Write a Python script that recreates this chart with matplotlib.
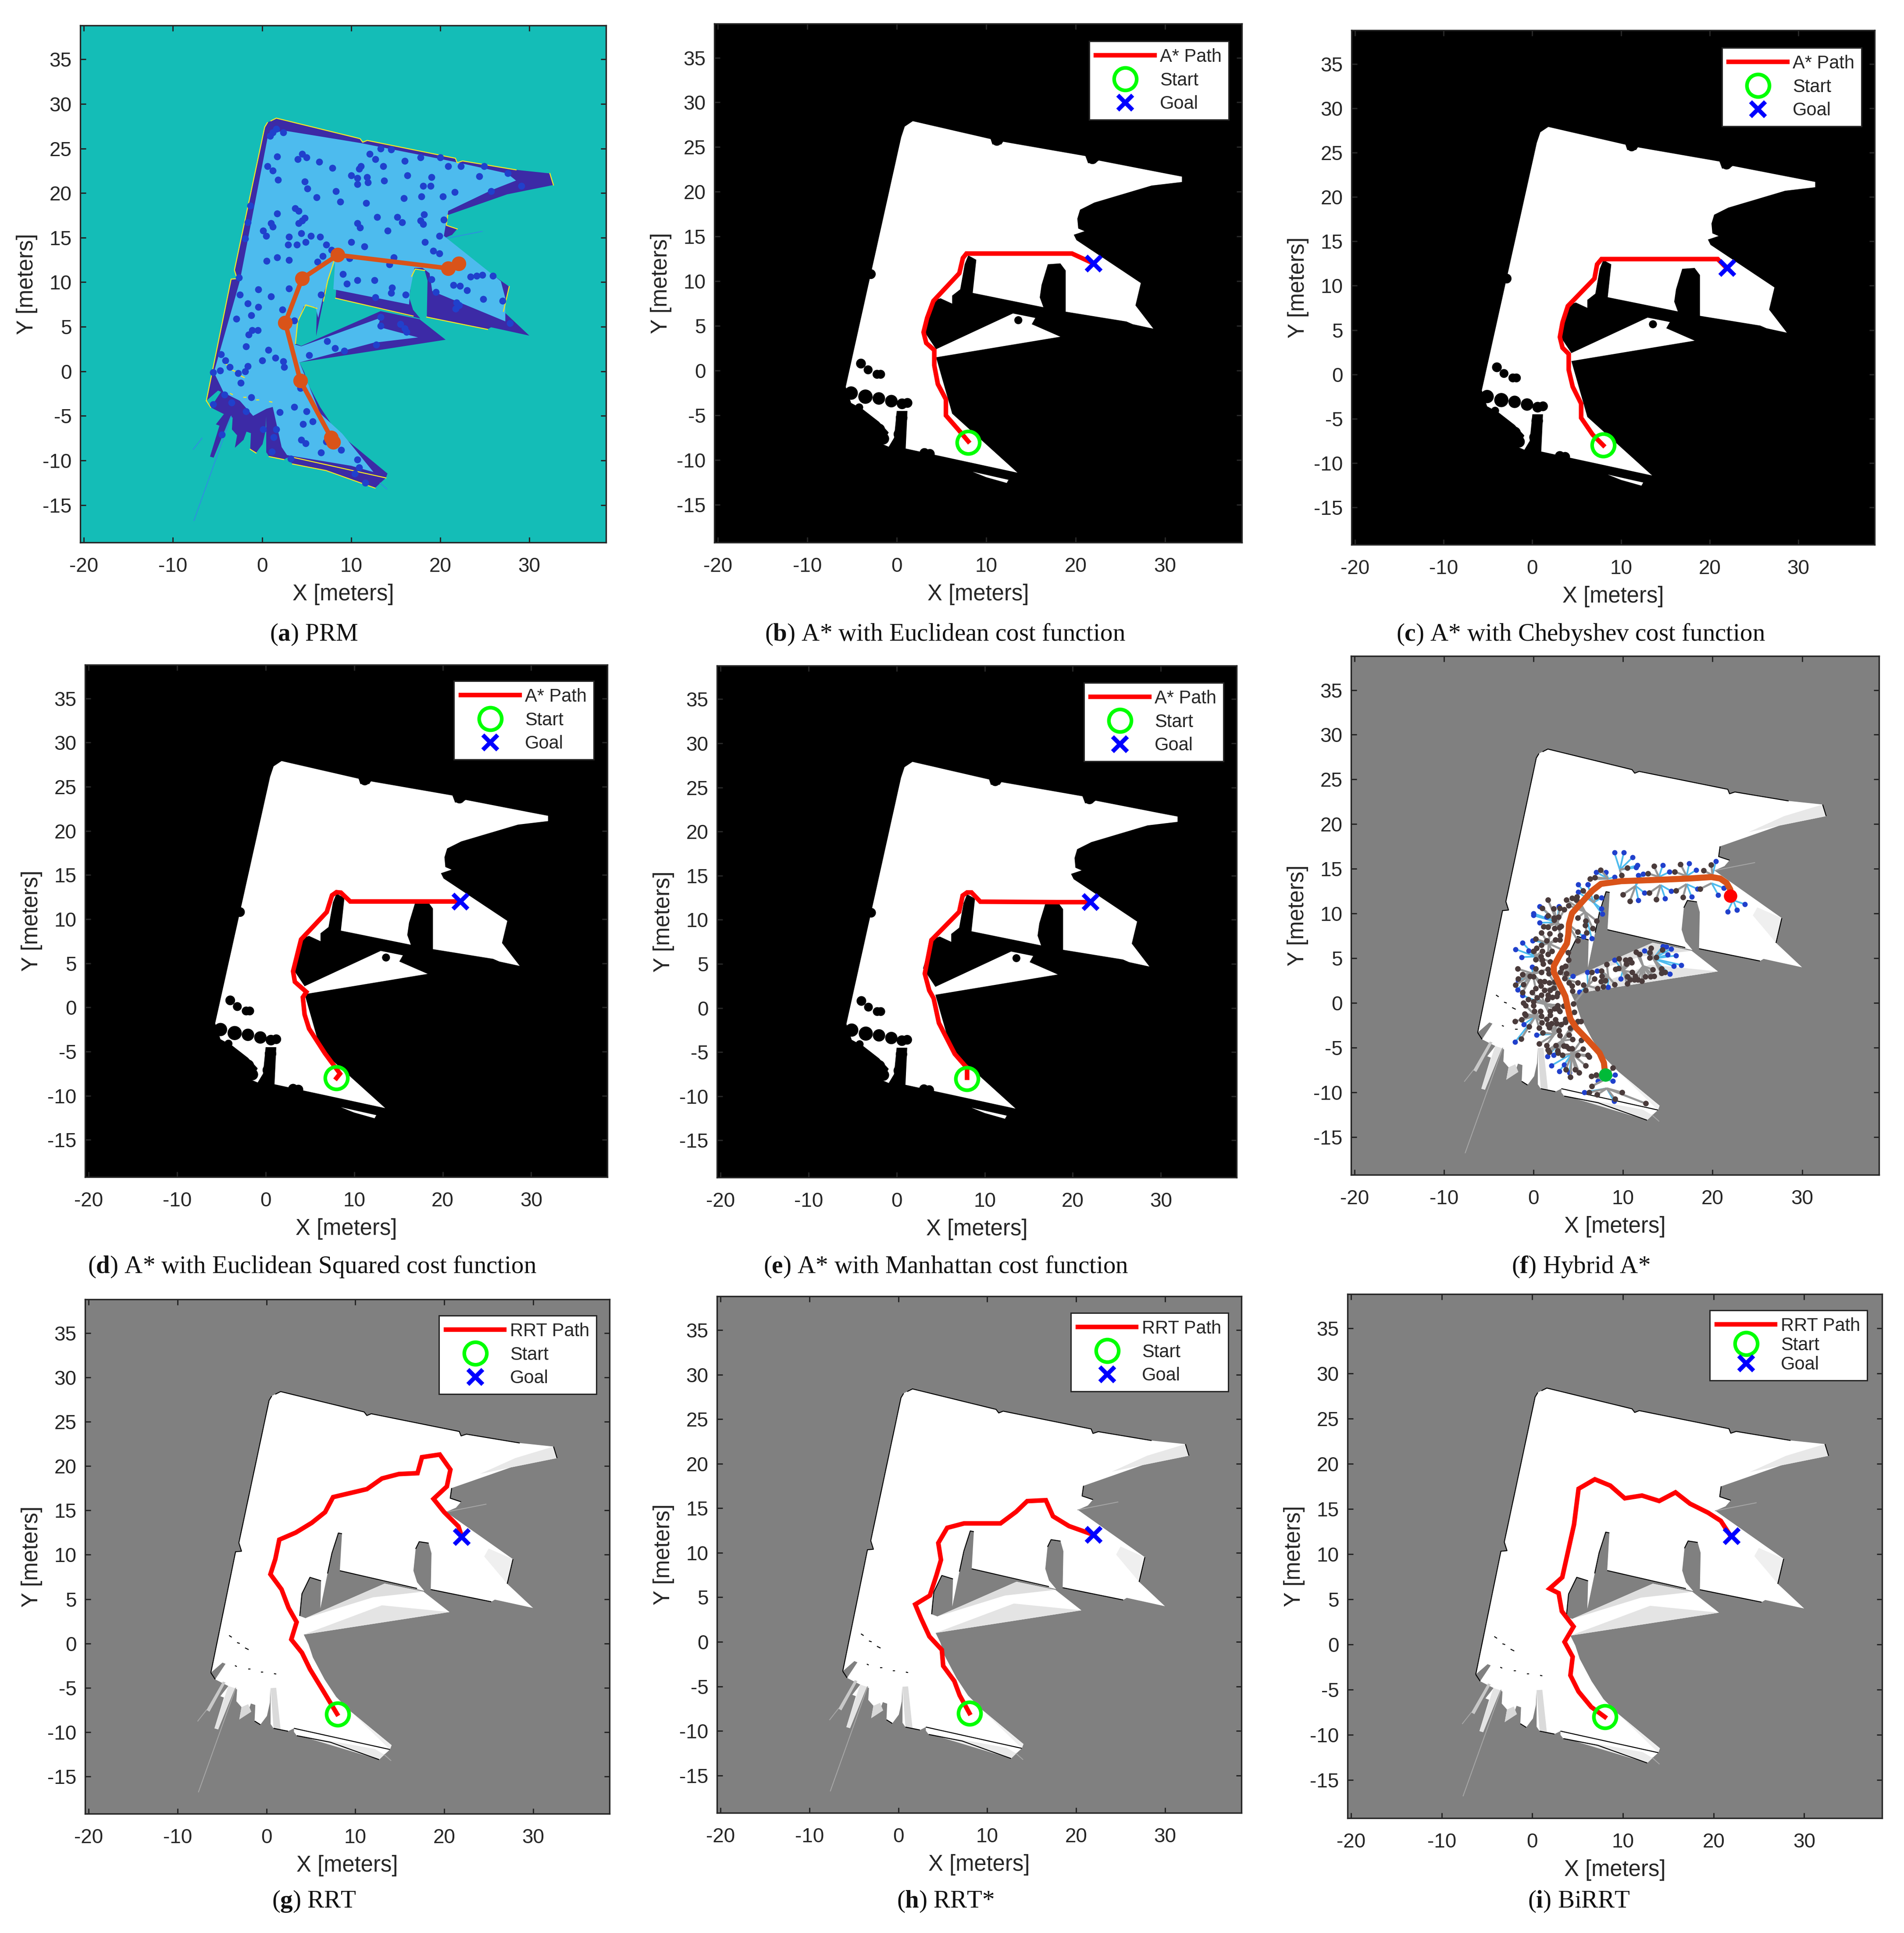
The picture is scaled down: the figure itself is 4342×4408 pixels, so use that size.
import numpy as np
import matplotlib
matplotlib.use("Agg")
import matplotlib.pyplot as plt
from matplotlib.patches import Circle, Polygon
from matplotlib.collections import LineCollection

plt.rcParams['font.family'] = ['Liberation Sans', 'DejaVu Sans']
plt.rcParams['mathtext.fontset'] = 'custom'
plt.rcParams['mathtext.bf'] = 'Liberation Serif:bold'
plt.rcParams['mathtext.rm'] = 'Liberation Serif'
plt.rcParams['axes.unicode_minus'] = False

W, H = 4342, 4408
DARK = '#262626'
XTICKS = [-20, -10, 0, 10, 20, 30]
YTICKS = [-15, -10, -5, 0, 5, 10, 15, 20, 25, 30, 35]
XLIM = (-20.4, 38.6)
YLIM = (-19.2, 38.8)
START = (8, -8)
GOAL = (22, 12)

# Free space of the raw occupancy map
MAP_X = [-6.25,-3.47,-2.8,-3.1,0.3,0.6,1.6,11,11.3,11.8,21.7,21.9,22.5,28.5,32.3,32.7,27.5,20.84,20.68,21.9,21.33,20.2,
         27.74,27.09,30,25.7,25.3,18.49,18.57,18.25,17.19,16.79,16.54,16.95,17.76,8.26,8.5,8.1,7.37,6.88,6.07,6.15,4.9,4,3.75,4.4,
         13.3,17.67,20.6,4.2,4.74,5.23,6.54,7.85,9.49,14.08,13.9,13.26,12.68,7.2,3.42,3.1,3.1,2.44,0.8,0.47,
         0.47,0.39,0.06,-0.68,-1.33,-1.25,-1.74,-2.07,-3.05,-2.8,-3.38,-3.3,-3.54,-5.43,-5.84,-4.78,-5.18,-4.28,-4.94,-5.76,-4.6,-4.94]
MAP_Y = [-3.3,10.34,10.4,11.35,27.4,27.9,28.4,26.1,25.7,25.9,23.9,23.4,23.6,22.6,22.2,20.9,19.85,17.52,16.38,15.97,15.31,14.82,
         9.5,6.73,4,4.94,4.7,6.08,10.17,11.31,11.47,10.66,8.2,6.9,5.92,8.2,12.37,12.45,10.17,7.88,3.96,7.06,7.45,5.6,3.1,2.85,
         6.75,5.84,3.54,1,-0.1,-1.58,-4.05,-6.03,-7.68,-11.47,-11.96,-12.54,-13.1,-11.14,-10.4,-9.98,-9.57,-9.9,-9.57,-9.08,
         -5.04,-6.69,-8.17,-9.16,-8.75,-6.94,-6.77,-7.68,-8.58,-7.18,-6.52,-5.2,-5.04,-9.69,-9.57,-6.1,-5.95,-4.8,-4.47,-4.05,-2.3,-2.16]

# Lighter, partly observed zones of the map
SHADE_COLORS = ['#E4E4E4','#DEDEDE','#E8E8E8','#EFEFEF','#EAEAEA','#DADADA','#E4E4E4','#C8C8C8','#EFEFEF','#D8D8D8']
SHADE_POLYS = [
    [(4.2,1),(20.6,3.54),(13,4.3)],
    [(4.4,2.85),(13.3,6.75),(17.67,5.84),(12,5.2)],
    [(32.3,22.2),(32.7,20.9),(27.5,19.85),(24,19.1),(28,20.9)],
    [(27.74,9.5),(27.09,6.73),(24.5,9.8),(25,10.7)],
    [(3.4,-10.3),(12.68,-13.1),(13.26,-12.54),(12.2,-11.9)],
    [(0.47,-5.04),(1.1,-5),(1.6,-9.7),(0.8,-9.57)],
    [(-5.84,-9.57),(-5.43,-9.69),(-3.54,-5.04),(-4.3,-4.8)],
    [(-6.74,-7.5),(-6.4,-7.7),(-4.6,-4.4),(-4.9,-4.3)],
    [(9.49,-7.68),(14.08,-11.47),(13.9,-11.96)],
    [(-2.8,-7.18),(-2.05,-6.85),(-1.7,-7.7),(-3.05,-8.58)],
]
# Thin laser rays
RAYS = [[(-7.64,-16.74),(-3.46,-5.04)], [(-7.72,-8.75),(-6.74,-7.5)], [(20.2,14.82),(24.7,15.7)], [(13.26,-12.54),(14,-13.2)]]
# Occupied cells along the walls
WALLS = [
    [(-6.25,-3.3),(-3.47,10.34),(-2.8,10.4),(-3.1,11.35),(0.3,27.4),(0.6,27.9)],
    [(1.0,28.1),(1.6,28.4),(11,26.1),(11.3,25.7),(11.8,25.9),(21.7,23.9),(21.9,23.4),(22.5,23.6),(28.5,22.6)],
    [(32.3,22.2),(32.7,20.9)],
    [(20.84,17.52),(20.68,16.38),(21.9,15.97)],
    [(27.74,9.5),(27.09,6.73)],
    [(8.26,8.2),(16.95,6.2)],
    [(18.49,6.08),(25.3,4.7)],
    [(18.25,11.31),(17.19,11.47),(16.79,10.66)],
    [(8.5,12.37),(8.1,12.45),(7.37,10.17),(6.88,7.88)],
    [(6.15,7.06),(4.9,7.45),(4,5.6),(3.75,3.1)],
    [(3.42,-10.4),(7.2,-11.14),(12.68,-13.1)],
    [(3.1,-9.57),(13.9,-11.96)],
    [(-6.25,-3.3),(-5.76,-4.05)],
    [(-4.2,.9),(-3.9,.7)],[(-3.3,.1),(-3.0,0)],[(-2.4,-.5),(-2.0,-.7)],
    [(-3.54,-2.5),(-3.33,-2.6)],[(-2.07,-2.9),(-1.8,-2.9)],[(-0.6,-3.23),(-0.35,-3.23)],[(0.85,-3.4),(1.1,-3.45)],
    [(-0.68,-9.16),(-1.33,-8.75)],[(0.8,-9.57),(2.44,-9.9)],
]

# Inflated map used by the A* planners
ASTAR_X = [-5.7,0.5,0.9,1.8,10.5,10.7,11.7,11.9,21.1,21.4,22.3,22.6,29.8,31.9,31.9,28.5,22.1,20.5,20.2,20.3,21,19.8,20.1,
           27.3,26.7,28.7,26.4,25.7,18.9,18.9,18.3,16.9,16.2,16,16.4,8.5,8.9,8,7.6,7.1,6.2,6.2,4.9,4,3,4.4,
           13,15.5,15.1,16.7,18.3,4.4,6.2,13.5,1,1.2,0,-0.3,-0.9,-1.6,-0.9,-2,-3.8,-5.1]
ASTAR_Y = [-1.8,26.1,27.3,27.9,25.9,25.3,25.3,25.6,24,23.2,23.3,23.5,22.1,21.7,21.1,20.7,18.8,18,17,15.9,15.6,15.2,14.6,
           9.8,7.3,4.7,5.2,5.5,6.6,11.2,12,11.9,9.6,8.2,7.1,8.7,12.4,12.9,11.9,9.1,8.4,7.5,8.1,7.8,4.5,2.4,
           6.4,5.9,5.2,4.5,3.8,1.5,-4.8,-11.4,-8.7,-4.5,-4.5,-7.5,-8.5,-8.2,-6.9,-5.7,-4.3,-3.6]
SLIVER_X = [8.5,12.5,12.3,10]
SLIVER_Y = [-11.3,-12.2,-12.55,-11.9]
OBST_X = [-4,-3.2,-2.2,-1.8,-5.1,-3.5,-4.2,-2,-0.6,0.6,1.2,0.55,0.3,0.3,-3.2,-2,-1.5,3.1,3.7,-2.9,13.6,11.2,21.9]
OBST_Y = [0.8,0.1,-0.4,-0.4,-2.5,-2.9,-4.1,-3.1,-3.4,-3.7,-3.6,-5.25,-7.1,-8.7,-5.9,-6.6,-7.6,-9.2,-9.3,10.8,5.65,25.7,23.7]
OBST_R = [0.55,0.5,0.5,0.5,0.75,0.8,0.45,0.7,0.7,0.6,0.55,0.65,0.65,0.65,0.75,0.7,0.65,0.55,0.55,0.55,0.45,0.55,0.6]

# PRM layer
PRM_LIGHT_X = [-5.4,-2.5,0.7,2.5,11.1,21.6,27.5,28.5,25.7,20.9,20.4,26.8,27.3,27.3,19.1,18.8,18,17.1,16.6,16.5,8,8.2,7,6.3,6,
               4.7,4,3.7,4.4,13.3,13,17.5,12.5,4.2,6.5,9,12.5,10,2.8,2.2,1.2,0.5,-1,-2.5,-4.3]
PRM_LIGHT_Y = [-0.1,10.1,26.6,27,25.6,23.5,22.2,21.4,20.3,18,15.2,10.1,8.2,5.6,9,11,11.6,11.6,9,7.5,9.2,12.3,9,6,7.2,
               7.3,5.4,3,2.8,6,5,3.8,3.2,1,-4.7,-7,-11.3,-10.6,-9.4,-8.5,-4,-4.2,-5,-3.3,-2.4]
PRM_NODES_X = [2.4,1.6,.9,1.2,1.7,.6,1.2,1.8,4,4.5,5,6.4,7.9,12.1,12.7,13.3,14.5,13.6,16,17.8,20,20.9,22.3,24.9,16.3,19,18.1,18.9,24.4,27.6,29.1,25.7,
 10,10.7,10.9,11.1,11.8,11.9,10.7,13.7,4.8,5.1,6.1,8.3,8.8,15.9,17.9,20.3,21.6,11.7,-1.3,1.7,3.7,4.1,4.8,4.5,4.1,-1.6,1,1.2,.1,.45,-1.9,3,4.4,5.5,6.5,
 2.9,3.9,4.9,7.2,7.8,10.7,11,12.9,15.2,15.7,14.1,18.2,17.8,18.1,20.4,19.9,18.3,10,11.5,19.2,19.9,.5,1.7,3,6.2,6.8,9.8,14.8,14.3,
 -2.6,9.1,9.5,10.7,12.6,14.6,19,21.5,22.2,23,19.5,23.4,24.1,24.7,25.9,-.4,1,3,-2.5,6.6,12.7,14.5,16.1,24.8,27,21.8,22.1,21.7,
 -1.6,-.4,2.3,-1.2,3.6,-2.9,-1.1,-.45,-1.5,-1.8,13.3,13.3,15.5,16,16.2,7.3,8.2,9.2,12.8,5.3,27.8,.7,1.5,0,2.4,2.5,
 -4.6,-4.1,-3.6,-4.7,-5.5,-2.7,-1.9,-1.6,-2.4,4.3,-4.2,-3.4,-5.5,-1.2,3.6,5,-1.8,2,5.7,4.6,1.6,.1,-4.5,1.3,4.4,4.9,1.1,6.6,8.9,7.2,3.2,10.7,10.9,10.4,11.6]
PRM_NODES_Y = [26.8,27.2,26.4,26.8,24.1,23,22.5,21.5,23.8,24.4,24,23.5,22.8,24.4,23.8,25,24.9,23,23.6,24,24,23,23,23,22,21.8,20.8,20.8,21.9,22.2,20.8,20.2,
 22,21.7,22.7,23,21.8,21.2,21,21.4,21.3,20.5,19.5,20.2,19,19.4,19.6,19.6,20.1,18.9,18.6,17.7,18.3,18,17.2,16.9,16.6,16.7,16.6,16.2,15.8,15.2,14.9,15.1,15.5,15.2,15.1,
 14.2,14.2,14.5,14.2,13.6,16.6,16.1,17.3,17.3,16.7,15.8,17.6,16.9,16.5,17,15.2,14.5,14.5,14,13.5,13.2,12.4,12.8,12.5,12.3,12.9,12.7,12.8,12,
 10.5,10.9,9.8,10.2,10.2,9.4,10.3,9.7,9.6,9.1,8.9,10.6,10.7,10.8,10.7,9.2,8.4,9.3,8.6,8.6,8.3,8.8,8.6,8.1,7.9,7.7,7.4,7,
 7.6,7.2,6.9,6.3,5.7,5.9,4.6,4.6,4.1,2.8,6.1,5.1,5.3,4.8,4.4,3.4,2.6,2.3,3,1.8,5.4,2.4,1.5,1.2,1.1,.5,
 1.9,1.2,.5,.1,-.1,-.2,0,.6,-1.3,-1.9,-2.6,-3.5,-3.7,-2.9,-4,-4.5,-4.5,-4.6,-5.6,-5.9,-6.5,-6.5,-7.1,-7.4,-7.7,-8.1,-9,-9.1,-8.8,-7.9,-9.8,-9.9,-10.8,-11.5,-12.5]
PRM_PATH_X = [8,7.75,4.3,2.6,4.5,8.5,20.9,22.05]
PRM_PATH_Y = [-7.95,-7.45,-1.05,5.45,10.4,13.05,11.55,12.1]

# Planned paths
EUC_X = [8,6.9,5.5,5.5,4.6,4.2,4.2,3.3,3,3.4,4.1,7,7.4,7.8,19.6,22]
EUC_Y = [-7.9,-6.6,-5,-3.2,-1.5,.6,2.3,3.1,4.3,5.9,7.8,10.9,12.6,13.1,13.1,12]
CHE_X = [8,6.8,5.5,5.5,4.55,4.1,4.1,3.4,3.1,3.4,4,7,7.3,7.8,20.9,21.9]
CHE_Y = [-8,-6.8,-4.9,-3.3,-1.4,.5,2.3,3,4.2,5.85,7.7,10.8,12.4,13,13,12]
SQ_X = [8,8.4,6.7,4.9,4.4,4.2,4.6,3.3,3.1,4,6.9,7.5,8,8.5,9.55,21.85]
SQ_Y = [-8,-7.5,-5.2,-2.4,-.8,1.15,1.75,2.9,4.1,7.7,10.8,12.7,13.05,13,12,12]
MAN_X = [8,8,6.6,4.8,4.2,3.7,3.2,3.95,7.1,7.5,8,8.5,9.5,18.3,22]
MAN_Y = [-7.9,-6.8,-5.2,-1.7,1.1,2,3.9,7.7,10.9,12.75,13.1,13.1,12.05,12,12]
RRT_X = [7.95,6.3,4.9,4,2.8,3.4,2.5,1.7,.45,1,1.45,3.3,5.1,6.6,7.5,11.3,13,14.9,17,17.5,19.5,20.7,20.3,18.8,20,21.6,22]
RRT_Y = [-7.95,-5.2,-2.9,-1.05,.45,2.4,4,6.1,7.8,9.5,11.7,12.5,13.6,14.8,16.5,17.4,18.6,19.1,19.2,21,21.3,19.6,17.7,16.3,14.8,13.2,12]
RRTS_X = [8,6.9,6.3,5.05,4.9,3.5,2.55,1.9,3.55,4.3,4.8,4.5,5.5,7.4,11.5,13.25,14.5,16.6,17.4,19.2,22]
RRTS_Y = [-8,-6,-4.4,-2.7,-.9,.6,2.65,4.2,5.2,7.5,9.2,11.1,12.8,13.3,13.3,14.6,15.8,15.9,14.1,13,12]
BI_X = [8,6.5,5.1,4.2,4.45,3.55,4.55,3.25,2.9,1.9,3.3,4.6,5.1,6.9,8.6,10.2,12.1,14,15.8,17.4,19.4,20.8,21.9]
BI_Y = [-8,-6.9,-5.2,-3.4,-1.35,.3,2,3.7,5.7,6.2,7.45,13.3,17.25,18.3,17.6,16.2,16.5,15.9,16.85,15.6,14.6,13.7,12]
HYB_X = [8,7.86,7.37,6.07,4.77,4.12,3.8,3.55,2.82,2.26,2.26,2.9,3.72,3.88,3.96,4.29,5.42,6.56,7.53,9.8,14.2,17.4,19.87,20.84,21.57,21.98,22]
HYB_Y = [-8,-6.67,-5.58,-4.14,-2.79,-1.78,-.43,.75,2.27,3.46,4.13,5.31,6.66,7.68,8.86,10.04,11.3,12.57,13.33,13.63,13.79,13.93,14.09,13.93,13.43,12.7,12]

# Hybrid A* search tree
HUB_X = [9.64,14,14.2,17.1,17.1,20,19.9,11.4,22.3,8.35,6.72,5.75,2.66,3.8,1.69,-.1,2.5,1.2,.23,2.34,4.29,8.18,8,3.8,6.07,8.34,9.97,12.24,13.38,.2,3.2]
HUB_Y = [14.9,14.1,13.2,14.2,13.3,14.3,13.4,13.1,11.5,13.9,11.22,10.2,9.03,8.86,6.66,3.29,1.94,-.09,-1.44,-3.47,-5.66,-9.54,-8.53,2.61,1.94,2.95,3.62,4.13,4.97,5.2,-4.2]
BLUE_X = [9.03,10.08,11.06,11.62,11.46,8.05,7,6.04,11.72,12.24,9.03,14.43,15.19,17.39,18.17,20.36,12.4,11.72,15.37,14.71,18.33,17.66,20.63,23.6,22.73,21.67,21.25,
 4.97,6.04,4.97,7.58,7.58,7.66,-.02,-.02,.68,2.82,1.44,.68,6.48,5.58,-.1,-1.23,-.55,-2,-1.35,-.18,-1.72,-1.8,-1.23,-1.07,-2.05,.31,1.53,2.01,2.86,3.44,3.99,2.26,
 9.12,8.86,7.21,5.67,8.99,4.41,5.99,7.08,9.07,5.13,8.3,9.72,14.43,14.84,15.37,15.89,15,12.4,16.51,15.21,15.68]
BLUE_Y = [16.83,16.83,16.29,15.4,15.15,14.63,14.63,13.24,14.28,14.45,14.09,15.4,14.66,15.59,14.87,15.84,12.31,11.47,12.52,11.69,12.75,11.88,12.1,11.05,10.4,10.23,12.86,
 13.25,13.25,12.4,11.81,10.55,9.95,10.04,9.8,10.8,10.8,9.62,8.98,7.25,7.42,7,6.75,5.87,6.02,5.14,4.05,2.53,1.51,.84,-2.37,-4.34,-3.55,-5.96,-6.98,-7.65,-6.89,-7.8,-5.83,
 -8,-8.73,-8.7,-9.97,-10.98,3.03,3.46,3.62,4.81,1.23,1.77,2.7,6.36,6.29,6.07,5.31,5.4,5.85,4.25,3.24,4.13]
BROWN_X = [7.5,6.85,6.33,10.49,9.82,13.44,12.79,15.76,16.41,18.98,19.85,9.97,10.75,12.94,13.72,15.89,16.69,18.59,
 5.5,3.64,1.61,4.29,4.85,4.77,3.93,.96,2.26,2.95,3.44,1.61,2.29,2.79,2.31,1.12,1.61,2.34,2.9,3.07,4.93,5.83,5.75,7.04,6.61,4.93,5.91,6.98,
 .88,1.8,2.99,.23,1.44,2.42,2.95,4.93,.88,.31,-.02,.96,2.06,3.88,.8,1.61,.23,.96,1.85,1.04,3.93,3.55,3.15,.23,1.61,-1.8,.88,-1.23,-.42,-.02,1.69,2.99,3.64,3.47,-1.72,-1.15,-2,.71,1.2,1.77,.8,2.34,3.96,4.93,4.29,5.58,
 .23,-1.23,1.2,1.85,2.26,5.83,-.18,.88,1.61,2.66,4.37,-.6,.39,2.09,2.58,1.53,-1.15,-.91,-.02,-.02,4.45,2.66,2.34,2.74,3.39,.06,.79,2.91,1.85,4.53,-.99,.88,1.85,-.91,1.44,2.42,3.55,-1.32,-2.05,5.26,4.93,3.55,.92,2.01,1.61,2.58,3.07,
 -.5,.63,1.77,2.82,.99,4.12,2.95,3.96,4.37,5.34,.63,1.44,2.5,3.39,3.64,1.61,1.77,2.66,2.74,3.96,4.29,5.53,3.23,4.93,6.07,6.23,5.83,3.6,4.66,5.1,4.12,6.43,6.98,8.86,6.51,6.23,7.09,9.1,9.89,12.52,-1.4,
 8.18,9.56,10.29,10.78,10.94,10.37,11.43,11.83,12.97,13.1,14.4,12.97,13.7,13.3,14.27,14.67,14.27,13.46,13.05,12.48,9.15,9.48,11,11.35,10.45,10.78,11.27,11.67,12.08,10.45,7.58,6.48,6.8,7.61,7.53,8.02,9.07,7.78,7.13]
BROWN_Y = [14.87,14.05,13.89,15.1,14.27,15.31,14.5,14.68,15.53,14.82,15.48,12.13,11.39,12.32,11.6,12.55,11.82,12.75,
 12.57,11.52,11.52,11.73,11.9,11.56,10.92,10.63,10.55,10.63,10.46,9.79,9.53,9.62,9.28,8.57,8.52,8.35,8.44,8.6,9.53,9.2,8.72,9.2,8.35,7.98,7.88,11.9,
 7.84,7.76,7.59,7.17,7,7.08,7.08,7,6.49,6.16,5.82,5.82,5.82,5.65,5.23,5.48,4.89,4.81,4.64,4.38,4.81,4.13,3.96,3.84,3.79,3.84,3.46,3.2,3.03,2.95,3.29,3.46,3.29,2.78,2.7,2.1,2.02,2.44,2.44,2.27,1.94,2.36,2.27,2.27,1.94,2.02,
 1.63,1.18,1.43,1.43,1.68,1.46,1.18,.92,.92,1.09,1.35,.42,.59,.67,.75,.42,0,-.26,.16,-.26,-.09,-.26,-.6,-.68,-.34,-.9,-.93,-.9,-.93,-1.02,-1.19,-1.44,-1.36,-1.36,-1.78,-1.86,-1.78,-1.83,-2.03,-2.03,-2.03,-2.12,-2.2,-2.28,-2.37,-2.28,-2.37,
 -2.62,-2.79,-2.71,-3.09,-3.3,-2.79,-3.63,-3.55,-4.06,-4.14,-4.56,-4.73,-4.73,-4.78,-4.82,-5.24,-5.49,-5.32,-5.58,-5.07,-5.07,-5.15,-5.8,-5.8,-5.83,-6,-7,-7.43,-7.43,-7.8,-8.28,-8.19,-8,-7.26,-9.29,-10,-10.25,-10.72,-10,-11.23,-4,
 4.35,4.97,4.84,4.89,4.52,4.38,5.73,5.45,5.65,6.16,5.95,5.06,5.14,3.76,3.84,3.46,3.34,3.03,2.95,2.95,3.79,3.88,3.46,3.03,2.95,2.61,2.61,2.61,2.48,2.19,3.62,3.46,2.7,3.03,2.44,2.53,2.1,1.85,1.63]

# Panels: axes box in pixels (left, right, top, bottom)
BOXES = dict(a=(183,1382,58,1237), b=(1629,2832,54,1237), c=(3082,4275,69,1242),
             d=(194,1385,1516,2684), e=(1635,2820,1518,2685), f=(3081,4285,1496,2679),
             g=(194,1390,2963,4136), h=(1635,2831,2956,4134), i=(3073,4292,2951,4146))
CAPTIONS = dict(a=('a','PRM',716,1447), b=('b','A* with Euclidean cost function',2155,1447), c=('c','A* with Chebyshev cost function',3605,1447),
                d=('d','A* with Euclidean Squared cost function',712,2889), e=('e','A* with Manhattan cost function',2157,2889), f=('f','Hybrid A*',3605,2889),
                g=('g','RRT',716,4336), h=('h','RRT*',2156,4336), i=('i','BiRRT',3601,4336))
LEG_GAP = dict(b=(30,40), c=(30,40), d=(31,37), e=(30,39), g=(30,37), h=(30,38), i=(34,37))

fig = plt.figure(figsize=(W/100, H/100), dpi=100, facecolor='white')

def make_axes(key, bg):
    l, r, t, b = BOXES[key]
    ax = fig.add_axes([l/W, 1-b/H, (r-l)/W, (b-t)/H], facecolor=bg)
    ax.set_xlim(*XLIM); ax.set_ylim(*YLIM)
    ax.set_xticks(XTICKS); ax.set_yticks(YTICKS)
    ax.tick_params(direction='in', top=True, right=True, length=9, width=2.2, color=DARK,
                   labelcolor=DARK, labelsize=33)
    ax.tick_params(axis='x', pad=24)
    ax.tick_params(axis='y', pad=14)
    for s in ax.spines.values():
        s.set_linewidth(2.4); s.set_color(DARK); s.set_zorder(20)
    ax.set_xlabel('X [meters]', fontsize=36.5, color=DARK, labelpad=12)
    ax.set_ylabel('Y [meters]', fontsize=36.5, color=DARK, labelpad=8)
    let, txt, cx, cy = CAPTIONS[key]
    fig.text(cx/W, 1-cy/H, '(' + r'$\mathbf{' + let + '}$' + ') ' + txt, ha='center', va='center',
             fontsize=41, color='#111111', family=['Liberation Serif', 'DejaVu Serif'])
    return ax

def gray_map(ax):
    ax.fill(MAP_X, MAP_Y, color='white', lw=0, zorder=1)
    for poly, c in zip(SHADE_POLYS, SHADE_COLORS):
        ax.add_patch(Polygon(poly, closed=True, fc=c, ec='none', zorder=1.2))
    for seg in RAYS:
        xs, ys = zip(*seg)
        ax.plot(xs, ys, color='#A6A6A6', lw=1.5, zorder=1.1)
    for seg in WALLS:
        xs, ys = zip(*seg)
        ax.plot(xs, ys, color='black', lw=1.6, zorder=1.4, solid_capstyle='butt')

def binary_map(ax):
    ax.fill(ASTAR_X, ASTAR_Y, color='white', lw=0, zorder=1)
    ax.fill(SLIVER_X, SLIVER_Y, color='white', lw=0, zorder=1)
    for x, y, r in zip(OBST_X, OBST_Y, OBST_R):
        ax.add_patch(Circle((x, y), r, fc='black', ec='none', zorder=1.3))

def path_panel(ax, key, px, py, name, spacing=0.33):
    ax.plot(px, py, color='#FF0000', lw=7.5, zorder=5, solid_joinstyle='miter', label=name)
    ax.plot(*START, 'o', mfc='none', mec='#00FF00', mew=6, ms=37, ls='none', zorder=6, label='Start')
    ax.plot(*GOAL, 'x', color='#0000FF', mew=7, ms=25, ls='none', zorder=6, label='Goal')
    l, r, t, b = BOXES[key]
    gx, gy = LEG_GAP[key]
    leg = ax.legend(loc='upper right', bbox_to_anchor=(1-gx/(r-l), 1-gy/(b-t)), borderaxespad=0,
                    fontsize=30, handlelength=3.2, handletextpad=0.3, labelspacing=spacing,
                    borderpad=0.38, fancybox=False, framealpha=1, edgecolor=DARK, labelcolor=DARK)
    leg.get_frame().set_linewidth(2.2)
    leg.set_zorder(30)

# (a) PRM
ax = make_axes('a', '#14BDB7')
ax.fill(MAP_X, MAP_Y, color='#3C2AA6', lw=0, zorder=1)
ax.fill(PRM_LIGHT_X, PRM_LIGHT_Y, color='#4DBBEE', lw=0, zorder=1.2)
for seg in RAYS:
    xs, ys = zip(*seg)
    ax.plot(xs, ys, color='#2E8FE0', lw=1.5, zorder=1.1)
for seg in WALLS:
    xs, ys = zip(*seg)
    ax.plot(xs, ys, color='#F7E625', lw=1.7, zorder=1.4)
ax.scatter(PRM_NODES_X, PRM_NODES_Y, s=130, color='#2040CC', lw=0, zorder=3)
ax.plot(PRM_PATH_X, PRM_PATH_Y, '-o', color='#D95319', lw=7.5, ms=23, zorder=4)

# (b)-(e) A*
ax = make_axes('b', 'black'); binary_map(ax); path_panel(ax, 'b', EUC_X, EUC_Y, 'A* Path')
ax = make_axes('c', 'black'); binary_map(ax); path_panel(ax, 'c', CHE_X, CHE_Y, 'A* Path')
ax = make_axes('d', 'black'); binary_map(ax); path_panel(ax, 'd', SQ_X, SQ_Y, 'A* Path')
ax = make_axes('e', 'black'); binary_map(ax); path_panel(ax, 'e', MAN_X, MAN_Y, 'A* Path')

# (f) Hybrid A*
ax = make_axes('f', '#808080'); gray_map(ax)
hubs = np.column_stack([HUB_X, HUB_Y])
def edges(xs, ys):
    pts = np.column_stack([xs, ys])
    idx = np.argmin(((pts[:, None, :] - hubs[None, :, :])**2).sum(axis=2), axis=1)
    return [[tuple(p), tuple(hubs[i])] for p, i in zip(pts, idx)]
ax.add_collection(LineCollection(edges(BLUE_X, BLUE_Y), colors='#4DBBEE', linewidths=2.8, zorder=2))
ax.scatter(BLUE_X, BLUE_Y, s=75, color='#2040CC', lw=0, zorder=2.2)
ax.add_collection(LineCollection(edges(BROWN_X, BROWN_Y), colors='#969696', linewidths=3.4, zorder=2.4))
ax.scatter(BROWN_X, BROWN_Y, s=85, color='#4A3B3B', lw=0, zorder=2.6)
ax.plot(HYB_X, HYB_Y, color='#D95319', lw=10, zorder=4, solid_capstyle='round')
ax.plot(*START, 'o', color='#00BA38', ms=22, mew=0, zorder=5)
ax.plot(*GOAL, 'o', color='#FF0000', ms=22, mew=0, zorder=5)

# (g)-(i) RRT family
ax = make_axes('g', '#808080'); gray_map(ax); path_panel(ax, 'g', RRT_X, RRT_Y, 'RRT Path')
ax = make_axes('h', '#808080'); gray_map(ax); path_panel(ax, 'h', RRTS_X, RRTS_Y, 'RRT Path')
ax = make_axes('i', '#808080'); gray_map(ax); path_panel(ax, 'i', BI_X, BI_Y, 'RRT Path', spacing=0.1)

fig.savefig('out.png', dpi=100, facecolor='white')
